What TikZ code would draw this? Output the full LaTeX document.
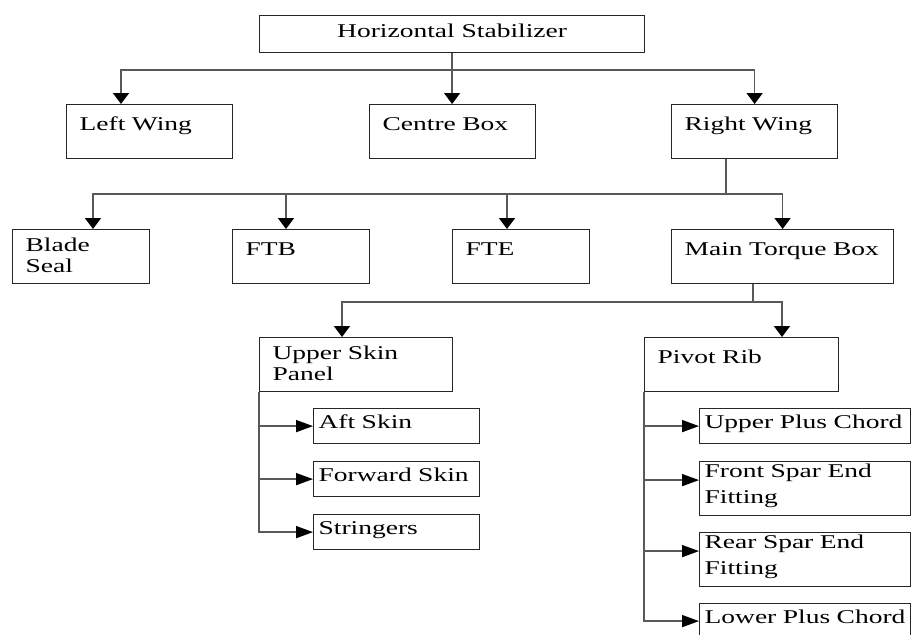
\documentclass[tikz,border=0pt]{standalone}
\usepackage{fontspec}
\setmainfont{Liberation Serif}[FakeStretch=1.41]
\usepackage{tikz}
\usetikzlibrary{arrows.meta}
\newcommand\boxfont{\fontsize{19.5}{21}\selectfont}
\newcommand\tallfont{\fontsize{19.5}{25.5}\selectfont}

\begin{document}
\begin{tikzpicture}[
  x=1pt, y=-1pt,
  head/.style={draw=black!85, line width=1.2pt, anchor=north west,
    inner sep=0pt, font=\boxfont, minimum width=385pt,
    text height=22pt, text depth=15pt},
  part/.style={draw=black!85, line width=1.2pt, anchor=north west,
    inner xsep=13pt, inner ysep=0pt, align=left, font=\boxfont,
    text width=#1, text height=26pt, text depth=28pt},
  part2/.style={part=#1, text height=22pt, text depth=32pt},
  leaf/.style={draw=black!85, line width=1.2pt, anchor=north west,
    inner xsep=5pt, inner ysep=0pt, align=left, font=\boxfont,
    text width=#1, text height=20pt, text depth=15pt},
  leaf2/.style={leaf=#1, font=\tallfont, text height=16pt, text depth=38pt},
  down/.style={draw=black!65, line width=1.6pt,
    -{Triangle[length=11pt, width=16pt, color=black]}},
  side/.style={draw=black!65, line width=1.6pt,
    -{Triangle[length=17pt, width=12pt, color=black]}}
]
  \useasboundingbox (0,0) rectangle (911,635);
  \clip (0,0) rectangle (911,635);

  % Top of the tree.
  \node[head] (hs) at (259,15) {Horizontal~Stabilizer};

  % Second level.
  \node[part=140pt] (lw) at (66,104) {Left~Wing};
  \node[part=140pt] (cb) at (369,104) {Centre~Box};
  \node[part=140pt] (rw) at (671,104) {Right~Wing};

  % Parts of the right wing.
  \node[part2=111pt] (bs) at (12,229) {Blade\\Seal};
  \node[part=111pt] (ftb) at (232,229) {FTB};
  \node[part=111pt] (fte) at (452,229) {FTE};
  \node[part=196pt] (mtb) at (671,229) {Main~Torque~Box};

  % Parts of the main torque box.
  \node[part2=167pt] (usp) at (259,337) {Upper~Skin\\Panel};
  \node[part=168pt] (pr) at (644,337) {Pivot~Rib};

  % Skin panel items.
  \node[leaf=156pt] (aft) at (313,408) {Aft~Skin};
  \node[leaf=156pt] (fwd) at (313,461) {Forward~Skin};
  \node[leaf=156pt] (str) at (313,514) {Stringers};

  % Pivot rib items.
  \node[leaf=201pt] (upc) at (699,408) {Upper~Plus~Chord};
  \node[leaf2=201pt] (fsef) at (699,461) {Front~Spar~End\\Fitting};
  \node[leaf2=201pt] (rsef) at (699,532) {Rear~Spar~End\\Fitting};
  \node[leaf=201pt] (lpc) at (699,603) {Lower~Plus~Chord};

  % Stabilizer to wings and centre box.
  \draw[down] (hs.south) -- ++(0,17) -| ([xshift=55pt]lw.north west);
  \draw[down] (hs.south) -- (hs.south |- cb.north);
  \draw[down] (hs.south) -- ++(0,17) -| (rw.north);

  % Right wing to its parts.
  \draw[down] ([xshift=55pt]rw.south west) -- ++(0,35) -| ([xshift=81pt]bs.north west);
  \draw[down] ([xshift=55pt]rw.south west) -- ++(0,35) -| ([xshift=54pt]ftb.north west);
  \draw[down] ([xshift=55pt]rw.south west) -- ++(0,35) -| ([xshift=55pt]fte.north west);
  \draw[down] ([xshift=55pt]rw.south west) -- ++(0,35) -| (mtb.north);

  % Main torque box to skin panel and pivot rib.
  \draw[down] ([xshift=82pt]mtb.south west) -- ++(0,18) -| ([xshift=83pt]usp.north west);
  \draw[down] ([xshift=82pt]mtb.south west) -- ++(0,18) -| ([xshift=138pt]pr.north west);

  % Side branches.
  \draw[side] (usp.south west) |- (aft.west);
  \draw[side] (usp.south west) |- (fwd.west);
  \draw[side] (usp.south west) |- (str.west);

  \draw[side] (pr.south west) |- (upc.west);
  \draw[side] (pr.south west) |- ([yshift=8.5pt]fsef.west);
  \draw[side] (pr.south west) |- ([yshift=8.5pt]rsef.west);
  \draw[side] (pr.south west) |- (lpc.west);
\end{tikzpicture}
\end{document}
